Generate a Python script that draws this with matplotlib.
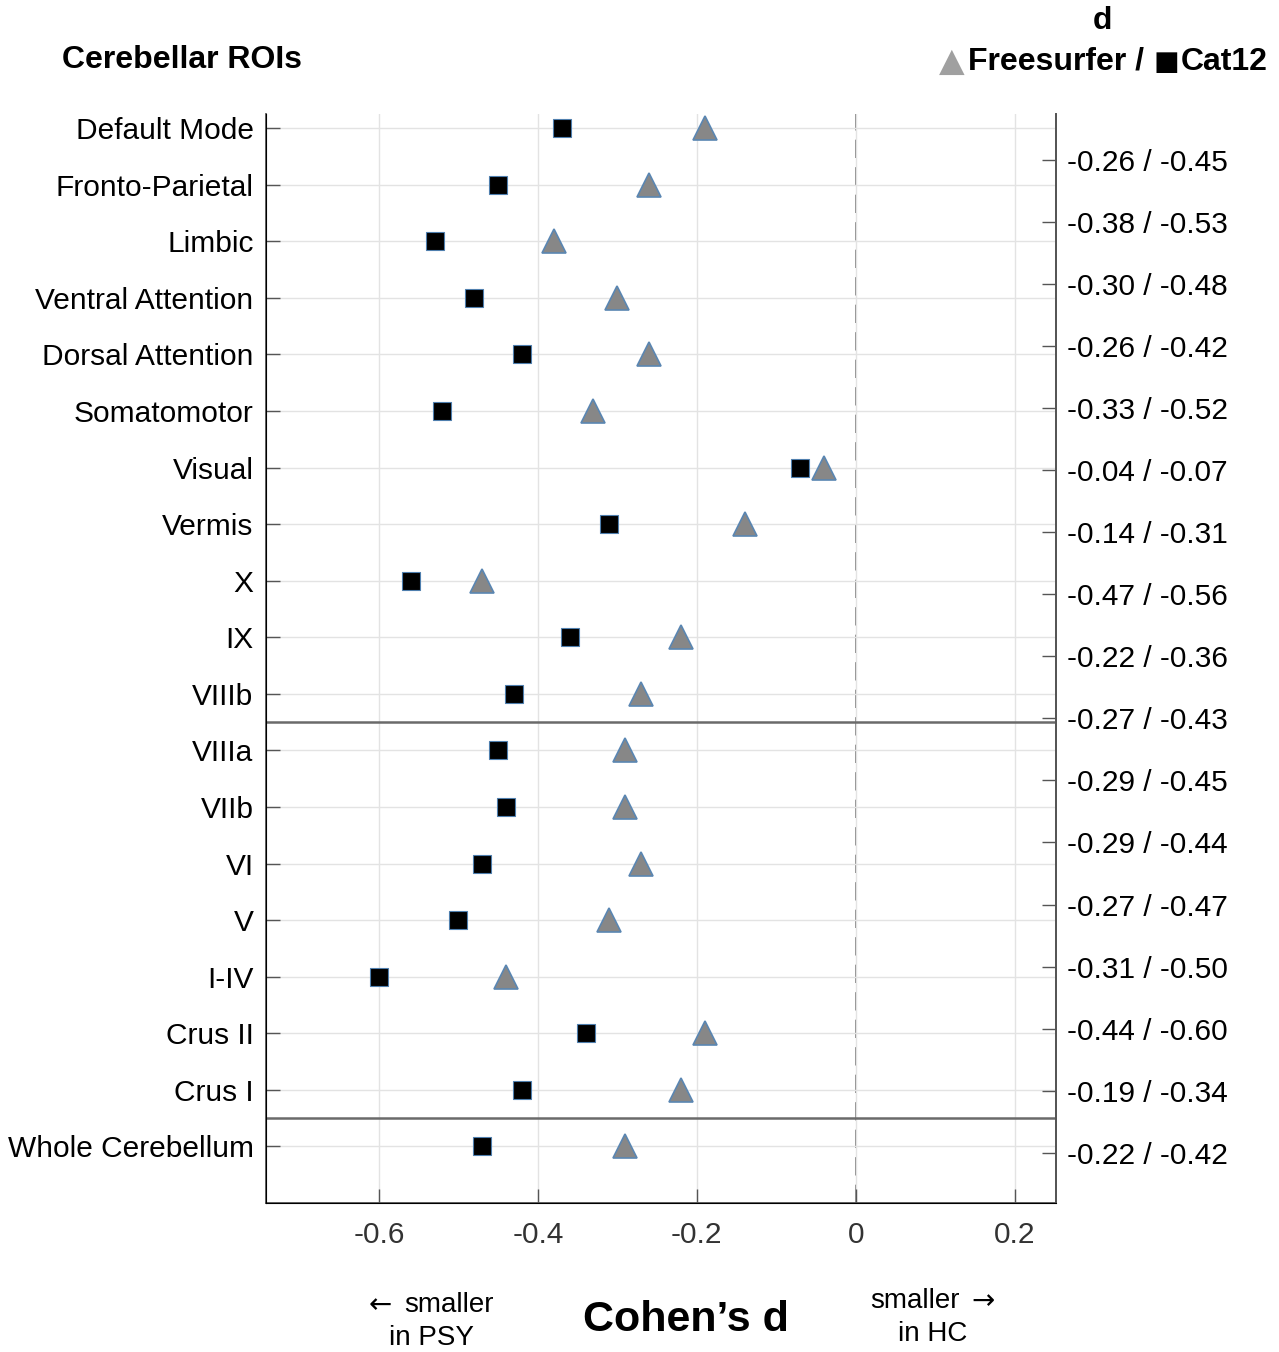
import numpy as np
import matplotlib
matplotlib.use('Agg')
import matplotlib.pyplot as plt

plt.rcParams['font.family'] = ['Liberation Sans', 'DejaVu Sans']

# effect sizes per cerebellar ROI (Cohen's d, PSY vs HC)
rois = ['Default Mode', 'Fronto-Parietal', 'Limbic', 'Ventral Attention',
        'Dorsal Attention', 'Somatomotor', 'Visual', 'Vermis', 'X', 'IX',
        'VIIIb', 'VIIIa', 'VIIb', 'VI', 'V', 'I-IV', 'Crus II', 'Crus I',
        'Whole Cerebellum']
freesurfer = [-0.19, -0.26, -0.38, -0.30, -0.26, -0.33, -0.04, -0.14, -0.47,
              -0.22, -0.27, -0.29, -0.29, -0.27, -0.31, -0.44, -0.19, -0.22,
              -0.29]
cat12 = [-0.37, -0.45, -0.53, -0.48, -0.42, -0.52, -0.07, -0.31, -0.56,
         -0.36, -0.43, -0.45, -0.44, -0.47, -0.50, -0.60, -0.34, -0.42,
         -0.47]
xticks = [-0.6, -0.4, -0.2, 0, 0.2]
xtick_labels = ['-0.6', '-0.4', '-0.2', '0', '0.2']
# values listed on the right axis (rows 2..18)
right_fs = freesurfer[1:18]
right_cat = cat12[1:18]

W, H = 1279, 1352
fig = plt.figure(figsize=(W / 100, H / 100), dpi=100)
ax = fig.add_axes([0.208, 0.1102, 0.6177, 0.8055])


def fx(px):
    return px / W


def fy(py):
    return 1 - py / H


y = np.arange(1, len(rois) + 1)
ax.grid(True, color='#e3e3e3', linewidth=1.0, zorder=0)
ax.axvline(0, color='#666666', linewidth=1.1, dashes=(12, 6), zorder=1)
ax.axhline(11.5, color='#6a6a6a', linewidth=1.8, zorder=2)
ax.axhline(18.5, color='#6a6a6a', linewidth=1.8, zorder=2)

ax.plot(cat12, y, linestyle='none', marker='s', markersize=12.5,
        markerfacecolor='black', markeredgecolor='#4f7fae',
        markeredgewidth=0.8, zorder=4)
ax.plot(freesurfer, y, linestyle='none', marker='^', markersize=17,
        markerfacecolor='#878787', markeredgecolor='#5a86b2',
        markeredgewidth=1.2, zorder=4)

ax.set_xlim(-0.742, 0.252)
ax.set_ylim(20, 0.75)
ax.set_yticks(y)
ax.set_yticklabels(rois, fontsize=21.5, color='black')
ax.set_xticks(xticks)
ax.set_xticklabels(xtick_labels, fontsize=21.5, color='#333333')
ax.tick_params(axis='both', direction='in', length=10, width=1.0,
               color='#555555')
ax.tick_params(axis='y', pad=9)
ax.tick_params(axis='x', pad=13)
ax.spines['top'].set_visible(False)
for side in ['left', 'right', 'bottom']:
    ax.spines[side].set_color('#555555')
    ax.spines[side].set_linewidth(1.3)

# right-hand axis with the d values as text
ax2 = ax.twinx()
ax2.set_ylim(17.81, 0.26)
ax2.set_yticks(np.arange(1, len(right_fs) + 1))
ax2.set_yticklabels(['%.2f / %.2f' % (a, b) for a, b in zip(right_fs, right_cat)],
                    fontsize=21.5)
ax2.tick_params(axis='y', direction='in', length=10, width=1.0,
                color='#555555', pad=8)
ax2.spines['top'].set_visible(False)
ax2.spines['right'].set_color('#555555')
ax2.spines['right'].set_linewidth(1.3)

# headers
fig.text(fx(62), fy(60), 'Cerebellar ROIs', fontsize=23,
         fontweight='bold', ha='left', va='center')
fig.text(fx(1102), fy(21), 'd', fontsize=23, fontweight='bold',
         ha='center', va='center')
fig.text(fx(939), fy(71), '\u25B2', fontsize=24, color='#a0a0a0',
         ha='left', va='baseline', family=['DejaVu Sans'])
fig.text(fx(968), fy(70), 'Freesurfer /', fontsize=23,
         fontweight='bold', ha='left', va='baseline')
fig.text(fx(1154), fy(70), '\u25A0', fontsize=19.5, color='black',
         ha='left', va='baseline', family=['DejaVu Sans'])
fig.text(fx(1268), fy(70), 'Cat12', fontsize=23,
         fontweight='bold', ha='right', va='baseline')

# x-axis annotations
fig.text(fx(686), fy(1320), 'Cohen\u2019s d', fontsize=31,
         fontweight='bold', ha='center', va='center')
fig.text(fx(369), fy(1305), '\u2190', fontsize=20, ha='left', va='center',
         family=['DejaVu Sans'])
fig.text(fx(494), fy(1305), 'smaller', fontsize=20, ha='right', va='center')
fig.text(fx(431), fy(1338), 'in PSY', fontsize=20, ha='center', va='center')
fig.text(fx(870), fy(1301), 'smaller', fontsize=20, ha='left', va='center')
fig.text(fx(995), fy(1301), '\u2192', fontsize=20, ha='right', va='center',
         family=['DejaVu Sans'])
fig.text(fx(933), fy(1334), 'in HC', fontsize=20, ha='center', va='center')

fig.savefig('out.png', dpi=100, facecolor='white')
